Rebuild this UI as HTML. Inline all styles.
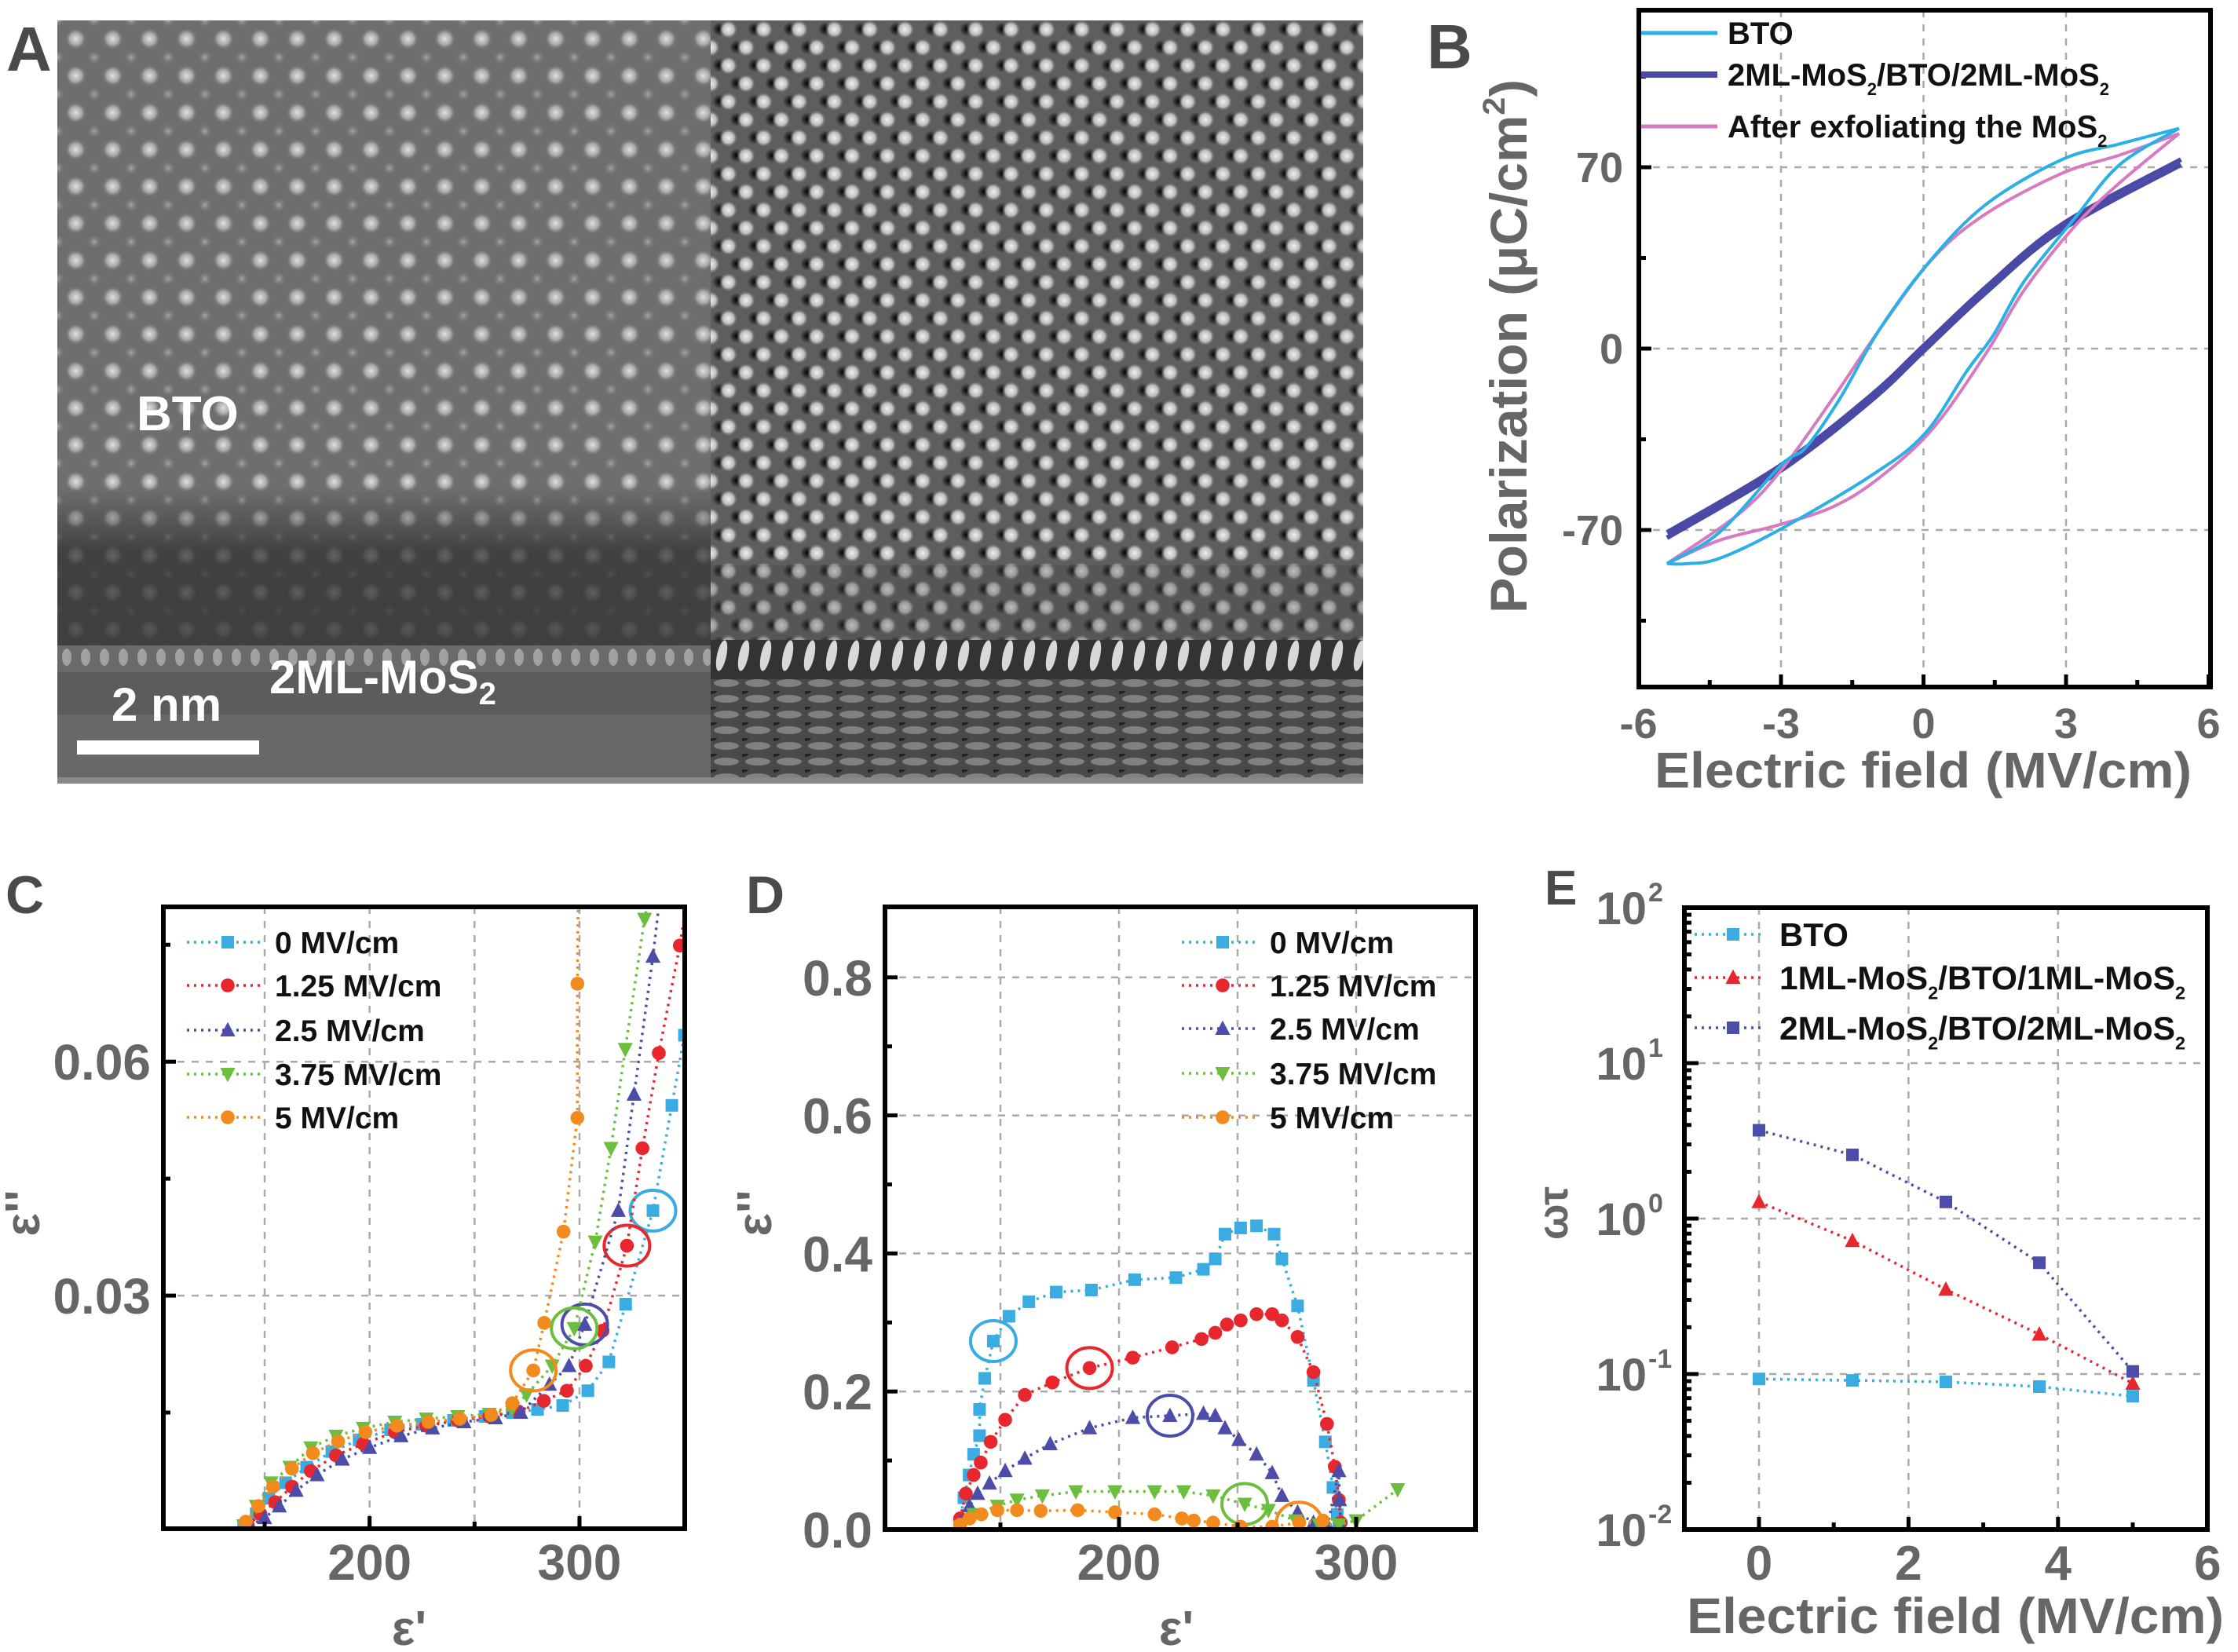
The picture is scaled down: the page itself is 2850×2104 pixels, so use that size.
<!DOCTYPE html>
<html><head><meta charset="utf-8">
<style>
html,body{margin:0;padding:0;background:#fff;}
svg{display:block;font-family:"Liberation Sans",Arial,sans-serif;}
.tk{font-weight:bold;fill:#666;}
.lg{font-weight:bold;fill:#111;}
.pl{font-weight:bold;fill:#4a4a4a;}
</style></head>
<body>
<svg id="fig" width="2850" height="2104" viewBox="0 0 2850 2104" xmlns="http://www.w3.org/2000/svg">
<defs>
  <radialGradient id="dotW"><stop offset="0" stop-color="#e2e2e2"/><stop offset="0.55" stop-color="#b8b8b8" stop-opacity="0.8"/><stop offset="1" stop-color="#6e6e6e" stop-opacity="0"/></radialGradient>
  <radialGradient id="dotG"><stop offset="0" stop-color="#a8a8a8"/><stop offset="1" stop-color="#6e6e6e" stop-opacity="0"/></radialGradient>
  <pattern id="stem" x="73" y="26" width="47" height="47" patternUnits="userSpaceOnUse">
    <rect width="47" height="47" fill="#6e6e6e"/>
    <circle cx="23.5" cy="23.5" r="14" fill="url(#dotW)"/>
    <circle cx="0" cy="0" r="10" fill="url(#dotG)"/><circle cx="47" cy="0" r="10" fill="url(#dotG)"/>
    <circle cx="0" cy="47" r="10" fill="url(#dotG)"/><circle cx="47" cy="47" r="10" fill="url(#dotG)"/>
  </pattern>
  <radialGradient id="hrW"><stop offset="0" stop-color="#f0f0f0"/><stop offset="0.6" stop-color="#bbb"/><stop offset="1" stop-color="#666" stop-opacity="0"/></radialGradient>
  <radialGradient id="hrD"><stop offset="0" stop-color="#000"/><stop offset="1" stop-color="#000" stop-opacity="0"/></radialGradient>
  <pattern id="hrtem" x="905" y="26" width="45" height="46" patternUnits="userSpaceOnUse">
    <rect width="45" height="46" fill="#5e5e5e"/>
    <circle cx="11" cy="11" r="9" fill="url(#hrD)"/><circle cx="33" cy="34" r="9" fill="url(#hrD)"/>
    <circle cx="22.5" cy="11.5" r="12" fill="url(#hrW)"/>
    <circle cx="0" cy="34.5" r="12" fill="url(#hrW)"/><circle cx="45" cy="34.5" r="12" fill="url(#hrW)"/>
  </pattern>
  <pattern id="mos" x="73" y="820" width="24" height="34" patternUnits="userSpaceOnUse">
    <rect width="24" height="34" fill="#6a6a6a"/>
    <ellipse cx="12" cy="17" rx="6" ry="11" fill="#b8b8b8" opacity="0.7"/>
  </pattern>
  <pattern id="hrmos" x="905" y="810" width="28" height="50" patternUnits="userSpaceOnUse">
    <rect width="28" height="50" fill="#333"/>
    <ellipse cx="14" cy="25" rx="6" ry="20" fill="#d8d8d8" transform="rotate(12 14 25)"/>
  </pattern>
  <pattern id="streak" x="905" y="860" width="40" height="20" patternUnits="userSpaceOnUse">
    <rect width="40" height="20" fill="#4a4a4a"/>
    <ellipse cx="20" cy="10" rx="16" ry="5" fill="#999" opacity="0.7"/>
    <ellipse cx="0" cy="0" rx="8" ry="4" fill="#111" opacity="0.7"/>
  </pattern>
  <linearGradient id="darkband" x1="0" y1="0" x2="0" y2="1">
    <stop offset="0" stop-color="#333" stop-opacity="0"/>
    <stop offset="0.4" stop-color="#2e2e2e" stop-opacity="0.7"/>
    <stop offset="1" stop-color="#333" stop-opacity="0.8"/>
  </linearGradient>
  <clipPath id="clipB"><rect x="2087" y="13" width="728" height="862"/></clipPath>
  <clipPath id="clipC"><rect x="208" y="1155" width="664" height="792"/></clipPath>
  <clipPath id="clipD"><rect x="1127" y="1155" width="752" height="793"/></clipPath>
  <clipPath id="clipE"><rect x="2145" y="1156" width="666" height="792"/></clipPath>
</defs>

<!-- Panel A -->
<g>
  <rect x="73" y="26" width="832" height="971" fill="url(#stem)"/>
  <rect x="73" y="620" width="832" height="205" fill="url(#darkband)"/>
  <rect x="73" y="822" width="832" height="34" fill="url(#mos)"/>
  <rect x="73" y="856" width="832" height="141" fill="#5c5c5c"/>
  <rect x="73" y="910" width="832" height="87" fill="#6e6e6e" opacity="0.7"/>
  <rect x="905" y="26" width="831" height="971" fill="url(#hrtem)"/>
  <rect x="905" y="720" width="831" height="95" fill="#444" opacity="0.3"/>
  <rect x="905" y="815" width="831" height="50" fill="url(#hrmos)"/>
  <rect x="905" y="865" width="831" height="125" fill="url(#streak)"/>
  <rect x="73" y="990" width="1663" height="8" fill="#888"/>
  <text x="174" y="548" font-size="62" font-weight="bold" fill="#fff">BTO</text>
  <text x="343" y="883" font-size="60" font-weight="bold" fill="#fff">2ML-MoS<tspan font-size="40" dy="14">2</tspan></text>
  <text x="142" y="918" font-size="60" font-weight="bold" fill="#fff">2 nm</text>
  <rect x="98" y="943" width="232" height="18" fill="#fff"/>
</g>
<text x="8" y="90" font-size="80" class="pl">A</text>
<text x="1817" y="87" font-size="80" class="pl">B</text>
<text x="7" y="1163" font-size="68" class="pl">C</text>
<text x="950" y="1163" font-size="68" class="pl">D</text>
<text x="1967" y="1152" font-size="62" class="pl">E</text>

<g id="gB"></g>
<g id="gC"></g>
<g id="gD"></g>
<g id="gE"></g>
</svg>
<script>
// ---------- Panel B data ----------
const bCyanUpE = [5.38,4.13,2.92,1.31,0.1,-0.94,-1.75,-2.47,-3,-4.3,-5.4];
const bCyanUpP = [85,79,73,55.6,33,7,-19,-38,-45,-71,-83];
const bCyanLoE = [-5.4,-4.97,-4.3,-3.04,-1.1,0.02,0.91,1.47,2.12,3.17,4.13,5.38];
const bCyanLoP = [-83,-83,-81,-70,-49,-33,-8.7,5.2,26,50,71,85];
const bPinkUpE = [5.38,4.13,2.92,1.31,0.19,-0.94,-1.9,-3,-3.9,-5.4];
const bPinkUpP = [83,74.7,67.7,52,34.7,7,-19,-47,-64,-83];
const bPinkLoE = [-5.4,-4.3,-3.04,-1.9,-0.94,0.19,1.31,2.12,3.17,4.13,5.38];
const bPinkLoP = [-83,-74,-68,-61,-50,-31,-2,22.6,47,64,83];
const bNavyE = [-5.4,-3,-1.1,0,1.31,2.92,5.42];
const bNavyP = [-72,-46,-19,0,22.6,47,72];
const bXTicks = [-6,-3,0,3,6];
const bYTicks = [70,0,-70];
const bYMinor = [105,35,-35,-105];
const bXMinor = [-4.5,-1.5,1.5,4.5];
const bLegend = ["BTO","2ML-MoS|/BTO/2ML-MoS|","After exfoliating the MoS|"];

// ---------- Panel C data ----------
const cLabels = ["0 MV/cm","1.25 MV/cm","2.5 MV/cm","3.75 MV/cm","5 MV/cm"];
const c0x = [140,146,152,160,170,182,195,210,225,240,255,268,280,292,304,314,322,335,344,350];
const c0y = [0.0005,0.002,0.004,0.006,0.008,0.010,0.0115,0.0128,0.0135,0.014,0.0145,0.015,0.0154,0.0159,0.0178,0.0215,0.0289,0.0409,0.0544,0.0634];
const c1x = [142,148,155,163,172,184,197,212,227,242,257,271,283,294,303,311,322.6,330,337.8,347.8,352];
const c1y = [0.0005,0.002,0.0035,0.0055,0.0075,0.0095,0.011,0.0125,0.0133,0.014,0.0145,0.0151,0.0165,0.0178,0.021,0.0255,0.0364,0.0489,0.0611,0.0749,0.082];
const c2x = [143,150,157,165,175,187,200,215,230,245,260,272,285.7,295,302.5,318.5,326,335,340];
const c2y = [0.0005,0.0015,0.003,0.005,0.007,0.009,0.0105,0.012,0.013,0.0138,0.0143,0.015,0.0186,0.021,0.0263,0.0409,0.0558,0.0735,0.085];
const c3x = [140,146,153,162,172,184,197,212,227,242,257,268,274.8,287,297.5,307.5,315,321.8,331,336];
const c3y = [0.0005,0.003,0.006,0.008,0.0105,0.012,0.013,0.0138,0.0142,0.0145,0.0148,0.0155,0.0173,0.021,0.0258,0.0369,0.0489,0.0616,0.0783,0.085];
const c4x = [141,147,154,163,173,185,198,213,228,243,258,268,278,283.2,292.4,299,299,299.5];
const c4y = [0.001,0.003,0.0055,0.0078,0.0098,0.0113,0.0125,0.0133,0.0138,0.0142,0.0147,0.0162,0.0204,0.0265,0.0382,0.0528,0.070,0.085];
const cCircled = [17,16,14,14,12];
const cXTicks = [200,300];
const cYTicks = [0.06,0.03];
const cYMinor = [0.075,0.045,0.015];

// ---------- Panel D data ----------
const d0x = [133,134.6,136.8,138.7,141.2,141.2,143.4,147,153.6,162,173.5,188.4,206.6,224,235.6,240.6,244.7,251.3,258,265.4,268.7,275.3,282,287,290.2,292,292.7];
const d0y = [0.01,0.046,0.079,0.109,0.136,0.174,0.219,0.273,0.309,0.33,0.344,0.347,0.362,0.365,0.377,0.392,0.428,0.437,0.44,0.428,0.392,0.324,0.216,0.127,0.061,0.022,0.004];
const d1x = [133,135.4,138.7,141.7,145.9,152,160.3,171.9,187.6,205.8,222.4,234.8,240.6,245.5,251.3,258,264.6,268.7,275.3,282,287.7,291,292.7,293.5];
const d1y = [0.016,0.052,0.079,0.097,0.127,0.159,0.195,0.213,0.234,0.249,0.264,0.276,0.285,0.297,0.303,0.312,0.312,0.303,0.279,0.228,0.153,0.091,0.043,0.01];
const d2x = [133,137,140.4,145.4,152,160.3,171,187.6,205.8,221.5,235.6,240.6,244.7,250.5,258,264.6,268.7,275.3,282,288,292.7,293,293.5];
const d2y = [0.01,0.034,0.052,0.067,0.085,0.103,0.124,0.147,0.162,0.165,0.168,0.165,0.147,0.13,0.109,0.082,0.049,0.025,0.01,0.006,0.085,0.043,0.005];
const d3x = [133,138.7,148.7,157,167.7,181.8,198.3,215,227.3,239.7,253,263,274.5,284.4,292.7,300,317.5];
const d3y = [0.004,0.022,0.034,0.043,0.049,0.055,0.055,0.055,0.055,0.049,0.037,0.028,0.013,0.007,0.007,0.013,0.058];
const d4x = [133,137,142,148.7,157,167,182.6,198.3,215,226.5,231.5,239.7,251.3,264.6,276,286];
const d4y = [0.007,0.016,0.022,0.028,0.028,0.027,0.028,0.025,0.022,0.016,0.013,0.01,0.004,0.004,0.01,0.013];
const dCircled = [7,8,9,10,14];
const dXTicks = [200,300];
const dYTicks = [0.8,0.6,0.4,0.2,0.0];

// ---------- Panel E data ----------
const eField = [0,1.25,2.5,3.75,5];
const eBTO = [0.093,0.091,0.089,0.083,0.072];
const e1ML = [1.28,0.72,0.35,0.18,0.087];
const e2ML = [3.7,2.57,1.28,0.52,0.104];
const eXTicks = [0,2,4,6];
const eYExp = [2,1,0,-1,-2];
const eLegend = ["1ML-MoS|/BTO/1ML-MoS|","2ML-MoS|/BTO/2ML-MoS|"];

const NS = "http://www.w3.org/2000/svg";
function mk(tag, parent){ const e=document.createElementNS(NS,tag); parent.appendChild(e); return e; }
function setA(e,o){ for(const k in o) e.setAttribute(k,o[k]); return e; }
const cols = ["#3aace2","#e8262d","#4b4da8","#6cbf3e","#f28a1e"];
const shapes = ["square","circle","tri","tridown","circle"];

function marker(g, shape, x, y, s, col){
  let e;
  if(shape==="square"){ e=mk("rect",g); setA(e,{x:x-s,y:y-s,width:2*s,height:2*s,fill:col}); }
  else if(shape==="circle"){ e=mk("circle",g); setA(e,{cx:x,cy:y,r:s*1.1,fill:col}); }
  else if(shape==="tri"){ e=mk("polygon",g); setA(e,{points:`${x},${y-s*1.3} ${x+s*1.2},${y+s} ${x-s*1.2},${y+s}`,fill:col}); }
  else { e=mk("polygon",g); setA(e,{points:`${x},${y+s*1.3} ${x+s*1.2},${y-s} ${x-s*1.2},${y-s}`,fill:col}); }
  
  
  return e;
}
function frame(g,x0,y0,x1,y1){
  const r=mk("rect",g); setA(r,{x:x0,y:y0,width:x1-x0,height:y1-y0,fill:"none",stroke:"#000","stroke-width":6});
  
  
}
function grid(g,x0,y0,x1,y1,vert){
  const l=mk("line",g); setA(l,vert?{x1:x0,y1:y0,x2:x0,y2:y1}:{x1:x0,y1:y0,x2:x1,y2:y0});
  setA(l,{stroke:"#aaa","stroke-width":2.5,"stroke-dasharray":"9 9"});
  
  
}
function tick(g,x,y,dx,dy){
  const l=mk("line",g); setA(l,{x1:x,y1:y,x2:x+dx,y2:y+dy,stroke:"#000","stroke-width":5});
  
  
}
function txt(g,x,y,s,size,cls,anchor){
  const t=mk("text",g); setA(t,{x:x,y:y,"font-size":size,class:cls,"text-anchor":anchor||"start"});
  t.textContent=s; return t;
}
function subText(g,x,y,s,size,cls,anchor){
  const t=mk("text",g); setA(t,{x:x,y:y,"font-size":size,class:cls,"text-anchor":anchor||"start"});
  const parts=s.split("|");
  parts.forEach((p,i)=>{
    if(p){ const a=mk("tspan",t); a.textContent=p; if(i>0) setA(a,{dy:-size*0.3}); }
    if(i<parts.length-1){ const b=mk("tspan",t); b.textContent="2"; setA(b,{"font-size":size*0.55,dy:size*0.3}); }
  });
  return t;
}
function smoothPath(pts){
  let d=`M${pts[0][0]},${pts[0][1]}`;
  for(let i=0;i<pts.length-1;i++){
    const p0=pts[Math.max(0,i-1)],p1=pts[i],p2=pts[i+1],p3=pts[Math.min(pts.length-1,i+2)];
    const c1=[p1[0]+(p2[0]-p0[0])/6,p1[1]+(p2[1]-p0[1])/6];
    const c2=[p2[0]-(p3[0]-p1[0])/6,p2[1]-(p3[1]-p1[1])/6];
    d+=` C${c1[0]},${c1[1]} ${c2[0]},${c2[1]} ${p2[0]},${p2[1]}`;
  }
  return d;
}

// ================= Panel B =================
(function(){
  const g=document.getElementById("gB");
  const X0=2087,X1=2815,Y0=13,Y1=875;
  const xs=v=>2449.5+v*60.5, ys=v=>444-v*3.3;
  bXTicks.slice(1,4).forEach(v=>grid(g,xs(v),Y0,Y1,Y1,true));
  [70,0,-70].forEach(v=>grid(g,X0,ys(v),X1,0,false));
  const plot=mk("g",g); plot.setAttribute("clip-path","url(#clipB)");
  function curve(E,P,col,w,name){
    const p=mk("path",plot); setA(p,{d:smoothPath(E.map((e,i)=>[xs(e),ys(P[i])])),fill:"none",stroke:col,"stroke-width":w,"stroke-linejoin":"round"});
    
    
  }
  curve(bNavyE,bNavyP.map(v=>v+1),"#4a4aa6",6,"navy-loop-upper");
  curve(bNavyE,bNavyP.map(v=>v-1),"#4a4aa6",6,"navy-loop-lower");
  curve(bPinkUpE,bPinkUpP,"#d67bbf",4,"pink-loop-upper");
  curve(bPinkLoE,bPinkLoP,"#d67bbf",4,"pink-loop-lower");
  curve(bCyanUpE,bCyanUpP,"#2bb0e6",4,"cyan-loop-upper");
  curve(bCyanLoE,bCyanLoP,"#2bb0e6",4,"cyan-loop-lower");
  frame(g,X0,Y0,X1,Y1);
  bXTicks.forEach(v=>tick(g,xs(v),Y1,0,-16));
  bXMinor.forEach(v=>tick(g,xs(v),Y1,0,-9));
  bYTicks.forEach(v=>tick(g,X0,ys(v),16,0));
  bYMinor.forEach(v=>tick(g,X0,ys(v),9,0));
  bXTicks.forEach(v=>{const t=txt(g,xs(v),940,String(v),54,"tk","middle");
     });
  bYTicks.forEach(v=>{const t=txt(g,2067,ys(v)+19,String(v),54,"tk","end");
     });
  const yl=txt(g,0,0,"Polarization (μC/cm",66,"tk","middle");
  const sup=mk("tspan",yl); sup.textContent="2"; setA(sup,{"font-size":40,dy:-28});
  const cl=mk("tspan",yl); cl.textContent=")"; setA(cl,{dy:28});
  setA(yl,{transform:"translate(1944,441) rotate(-90)",textLength:680,lengthAdjust:"spacingAndGlyphs",fill:"#707070"});
  
  
  const xl=txt(g,2449,1003,"Electric field (MV/cm)",64,"tk","middle");
  setA(xl,{textLength:684,lengthAdjust:"spacingAndGlyphs",fill:"#707070"});
  
  
  const lc=["#2bb0e6","#4a4aa6","#d67bbf"], lw=[5,8,5], ly=[42,95,161];
  bLegend.forEach((s,i)=>{
    const l=mk("line",g); setA(l,{x1:2090,x2:2187,y1:ly[i],y2:ly[i],stroke:lc[i],"stroke-width":lw[i]});
    
    
    const t=subText(g,2200,ly[i]+14,s,40,"lg");
    
    
  });
})();

// ================= Panels C & D (Cole-Cole) =================
function coleCole(gid,clip,X0,Y0,X1,Y1,xs,ys,xsets,ysets,circ,xt,yt,yfmt,legendX,legendY,ylabX,xlabX,minorY,xgrid,ygrid){
  const g=document.getElementById(gid);
  xgrid.forEach(v=>grid(g,xs(v),Y0,Y1,Y1,true));
  ygrid.forEach(v=>grid(g,X0,ys(v),X1,0,false));
  const plot=mk("g",g); plot.setAttribute("clip-path",clip);
  xsets.forEach((xa,si)=>{
    const ya=ysets[si];
    const pl=mk("polyline",plot);
    setA(pl,{points:xa.map((x,i)=>xs(x)+","+ys(ya[i])).join(" "),fill:"none",stroke:cols[si],"stroke-width":3.5,"stroke-dasharray":"3 6"});
    
    
    xa.forEach((x,i)=>marker(plot,shapes[si],xs(x),ys(ya[i]),8,cols[si]));
    const k=circ[si];
    const el=mk("ellipse",plot); setA(el,{cx:xs(xa[k]),cy:ys(ya[k]),rx:29,ry:26,fill:"none",stroke:cols[si],"stroke-width":4});
    
    
  });
  frame(g,X0,Y0,X1,Y1);
  xt.forEach(v=>tick(g,xs(v),Y1,0,-16));
  xgrid.forEach(v=>tick(g,xs(v),Y1,0,-9));
  yt.forEach(v=>tick(g,X0,ys(v),16,0));
  minorY.forEach(v=>tick(g,X0,ys(v),9,0));
  xt.forEach(v=>{const t=txt(g,xs(v),2012,String(v),64,"tk","middle");
     });
  yt.forEach(v=>{const t=txt(g,X0-16,ys(v)+23,yfmt(v),64,"tk","end");
     });
  const yl=txt(g,0,0,"ε''",62,"tk","middle"); setA(yl,{transform:`translate(${ylabX},1545) rotate(-90)`});
  
  
  const xl=txt(g,xlabX,2095,"ε'",62,"tk","middle");
  
  
  cLabels.forEach((s,i)=>{
    const y=legendY[i];
    const l=mk("line",g); setA(l,{x1:legendX,x2:legendX+94,y1:y,y2:y,stroke:cols[i],"stroke-width":3.5,"stroke-dasharray":"3 6"});
    
    
    marker(g,shapes[i],legendX+52,y,8,cols[i]);
    const t=txt(g,legendX+112,y+14,s,39,"lg");
    
    
  });
}
coleCole("gC","url(#clipC)",208,1155,872,1947,
  v=>337+(v-150)*2.673, v=>1948-v*9930,
  [c0x,c1x,c2x,c3x,c4x],[c0y,c1y,c2y,c3y,c4y],cCircled,
  cXTicks,cYTicks,v=>v.toFixed(2),238,[1200,1255,1312,1368,1423],50,521,cYMinor,[150,200,250,300],[0.06,0.03]);
coleCole("gD","url(#clipD)",1127,1155,1879,1948,
  v=>1274+(v-150)*3.02, v=>1948-v*879,
  [d0x,d1x,d2x,d3x,d4x],[d0y,d1y,d2y,d3y,d4y],dCircled,
  dXTicks,dYTicks,v=>v.toFixed(1),1505,[1200,1255,1310,1367,1423],982,1498,[0.7,0.5,0.3,0.1],[150,200,250,300],[0.8,0.6,0.4,0.2]);

// ================= Panel E =================
(function(){
  const g=document.getElementById("gE");
  const X0=2145,X1=2811,Y0=1156,Y1=1948;
  const xs=v=>2240+v*95.2, ys=v=>1156+(2-Math.log10(v))*198;
  [0,2,4].forEach(v=>grid(g,xs(v),Y0,Y1,Y1,true));
  [10,1,0.1].forEach(v=>grid(g,X0,ys(v),X1,0,false));
  const plot=mk("g",g); plot.setAttribute("clip-path","url(#clipE)");
  const sets=[eBTO,e1ML,e2ML], ec=["#3aace2","#e8262d","#4b4da8"], es=["square","tri","square"];
  sets.forEach((arr,si)=>{
    const pl=mk("polyline",plot);
    setA(pl,{points:eField.map((x,i)=>xs(x)+","+ys(arr[i])).join(" "),fill:"none",stroke:ec[si],"stroke-width":3.5,"stroke-dasharray":"3 6"});
    
    
    eField.forEach((x,i)=>marker(plot,es[si],xs(x),ys(arr[i]),8,ec[si]));
  });
  frame(g,X0,Y0,X1,Y1);
  eYExp.forEach(p=>{
    tick(g,X0,ys(Math.pow(10,p)),18,0);
    if(p>-2) for(let m=2;m<10;m++) tick(g,X0,ys(Math.pow(10,p-1)*m),9,0);
    const t=txt(g,2097,ys(Math.pow(10,p))+21,"10",58,"tk","end");
     
    const s=txt(g,2099,ys(Math.pow(10,p))-8,String(p),34,"tk","start");
     
  });
  eXTicks.forEach(v=>{tick(g,xs(v),Y1,0,-16);
    const t=txt(g,xs(v),2012,String(v),62,"tk","middle");
     });
  [1,3,5].forEach(v=>tick(g,xs(v),Y1,0,-9));
  const yl=txt(g,0,0,"ωτ",54,"tk","middle"); setA(yl,{transform:"translate(1996,1545) rotate(-90)"});
  
  
  const xl=txt(g,2490,2080,"Electric field (MV/cm)",64,"tk","middle");
  setA(xl,{textLength:684,lengthAdjust:"spacingAndGlyphs",fill:"#707070"});
  
  
  const names=["BTO"].concat(eLegend), ly=[1190,1245,1309];
  names.forEach((s,i)=>{
    const l=mk("line",g); setA(l,{x1:2158,x2:2247,y1:ly[i],y2:ly[i],stroke:ec[i],"stroke-width":3.5,"stroke-dasharray":"3 6"});
    
    
    marker(g,es[i],2207,ly[i],8,ec[i]);
    const t=subText(g,2266,ly[i]+15,s,42,"lg");
    if(i>0) setA(t,{textLength:517,lengthAdjust:"spacingAndGlyphs"});
    
    
  });
})();
</script>
</body></html>
